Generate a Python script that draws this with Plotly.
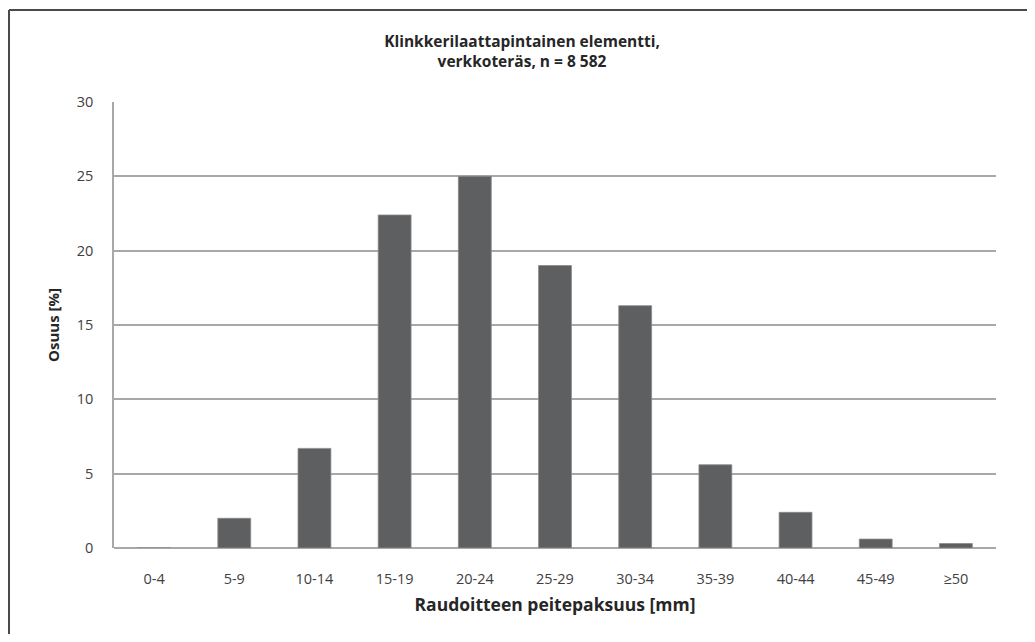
import plotly.graph_objects as go

categories = ["0-4", "5-9", "10-14", "15-19", "20-24", "25-29", "30-34", "35-39", "40-44", "45-49", "≥50"]
values = [0.0, 2.0, 6.7, 22.4, 25.0, 19.0, 16.3, 5.6, 2.4, 0.6, 0.3]
y_ticks = [0, 5, 10, 15, 20, 25, 30]

title_text = "Klinkkerilaattapintainen elementti,<br>verkkoteräs, n = 8 582"
x_title = "Raudoitteen peitepaksuus [mm]"
y_title = "Osuus [%]"

FONT = "Open Sans"
TXT = "#404040"

# page body has an 8px margin; figure is sized/positioned to compensate
W, H = 1019, 626
L, T = 106, 94
R = W - 988
B = H - 540
pw, ph = W - L - R, H - T - B

fig = go.Figure(go.Bar(
    x=categories, y=values,
    marker=dict(color="#5e5f61", line=dict(color="#8a8a8a", width=0.8)),
    width=0.41,
))

fig.update_layout(
    width=W, height=H,
    margin=dict(l=L, r=R, t=T, b=B),
    paper_bgcolor="white", plot_bgcolor="white",
    showlegend=False,
    font=dict(family=FONT, color=TXT, size=12),
    title=dict(text="<b>" + title_text + "</b>", x=514 / W, xanchor="center",
               y=1 - 39 / H, yanchor="middle", font=dict(size=15.5, color="#262626", family=FONT)),
    xaxis=dict(type="category", showgrid=False, ticks="", showline=False,
               tickfont=dict(size=14.5, color=TXT, family=FONT), ticklabelstandoff=20,
               title=dict(text="<b>" + x_title + "</b>", font=dict(size=17.5, color="#262626", family=FONT), standoff=12),
               ),
    yaxis=dict(range=[0, 30], tickvals=y_ticks, showgrid=True, gridcolor="#a8a8a8", gridwidth=1.5,
               zeroline=True, zerolinecolor="#a8a8a8", zerolinewidth=1.5,
               showline=True, linecolor="#a8a8a8", linewidth=1.5, ticks="", ticklen=0,
               tickfont=dict(size=14.5, color=TXT, family=FONT), ticklabelstandoff=16,
               title=dict(text="<b>" + y_title + "</b>", font=dict(size=15, color="#262626", family=FONT), standoff=14),
               ),
    bargap=0.59,
)

# outer chart frame (left and top edges visible in the reference)
x_left = (1 - L) / pw
y_top = (H - B - 2) / ph
fig.add_shape(type="line", xref="paper", yref="paper", x0=x_left, x1=(W + 20 - L) / pw, y0=y_top, y1=y_top,
              line=dict(color="#4a4a4a", width=2))
fig.add_shape(type="line", xref="paper", yref="paper", x0=x_left, x1=x_left, y0=y_top, y1=(-(B + 20)) / ph,
              line=dict(color="#4a4a4a", width=2))

fig.write_html("out.html")
